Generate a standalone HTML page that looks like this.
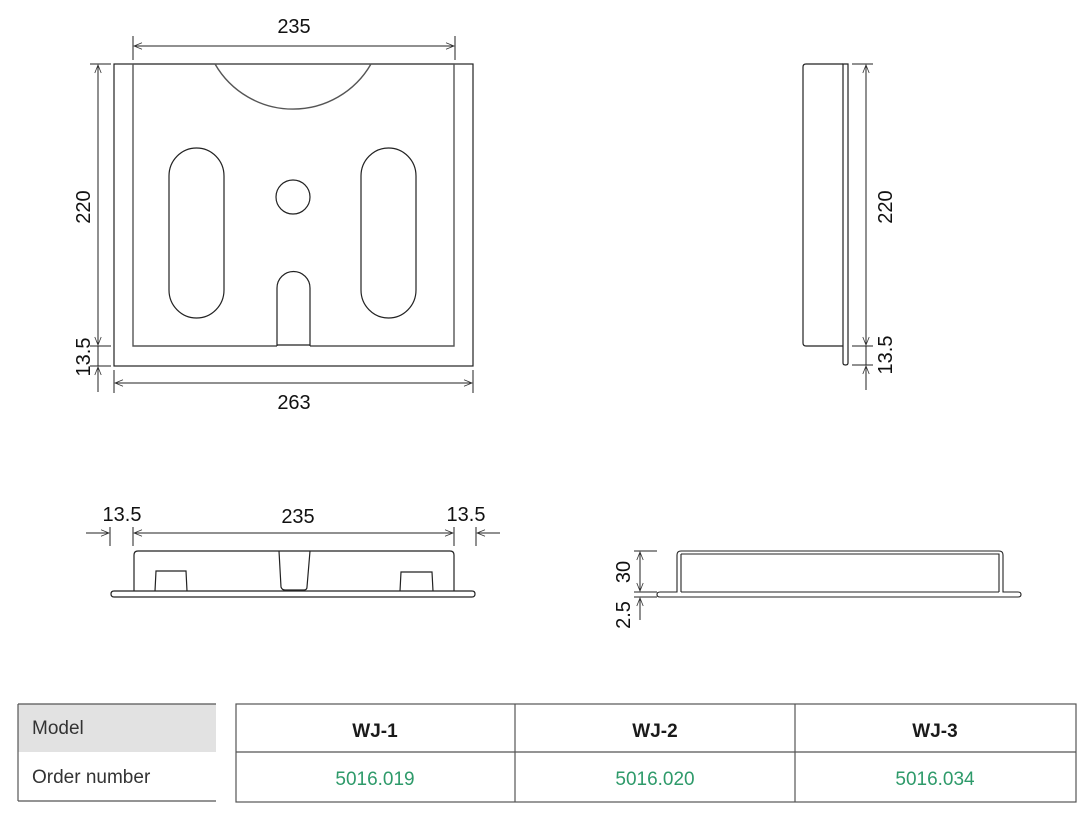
<!DOCTYPE html>
<html><head><meta charset="utf-8"><style>
html,body{margin:0;padding:0;background:#fff;}
svg{display:block;}
.t{font-family:"Liberation Sans",sans-serif;font-size:20px;fill:#111;}
.tb{font-family:"Liberation Sans",sans-serif;}
</style></head><body>
<svg width="1086" height="818" viewBox="0 0 1086 818" xmlns="http://www.w3.org/2000/svg">
<defs>
<marker id="a" viewBox="0 0 10 10" refX="10" refY="5" markerWidth="10" markerHeight="8" orient="auto-start-reverse" markerUnits="userSpaceOnUse">
<path d="M0,1 L10,5 L0,9" fill="none" stroke="#333" stroke-width="1"/>
</marker>
</defs>
<g fill="none" stroke="#222" stroke-width="1.2">
<rect x="114" y="64" width="359" height="302"/>
<path d="M133,64 V346 H277 M310,346 H454 V64 H371 A90,90 0 0 1 215,64 H133" stroke="#555" stroke-width="1.4"/>
<path d="M277,346 V288 A16.5,16.5 0 0 1 310,288 V346 M277,345 H310" />
<path d="M169,176 A27.5,28 0 0 1 224,176 V290 A27.5,28 0 0 1 169,290 Z"/>
<path d="M361,176 A27.5,28 0 0 1 416,176 V290 A27.5,28 0 0 1 361,290 Z"/>
<circle cx="293" cy="197" r="17"/>
</g>
<g fill="none" stroke="#222" stroke-width="1">
<line x1="133" y1="36" x2="133" y2="60"/><line x1="455" y1="36" x2="455" y2="60"/>
<line x1="134" y1="46" x2="454" y2="46" marker-start="url(#a)" marker-end="url(#a)"/>
<line x1="90" y1="64" x2="111" y2="64"/><line x1="90" y1="346" x2="111" y2="346"/><line x1="90" y1="366" x2="111" y2="366"/>
<line x1="98" y1="65" x2="98" y2="345" marker-start="url(#a)" marker-end="url(#a)"/>
<line x1="98" y1="346" x2="98" y2="366"/>
<line x1="98" y1="392" x2="98" y2="367" marker-end="url(#a)"/>
<line x1="114" y1="370" x2="114" y2="393"/><line x1="473" y1="370" x2="473" y2="393"/>
<line x1="115" y1="383" x2="472" y2="383" marker-start="url(#a)" marker-end="url(#a)"/>
</g>
<text class="t" x="294" y="33" text-anchor="middle">235</text>
<text class="t" x="294" y="409" text-anchor="middle">263</text>
<text class="t" transform="translate(90,207) rotate(-90)" text-anchor="middle">220</text>
<text class="t" transform="translate(90,357) rotate(-90)" text-anchor="middle">13.5</text>

<g fill="none" stroke="#222" stroke-width="1.2">
<path d="M843,64 H806 Q803,64 803,67 V343 Q803,346 806,346 H843"/>
<path d="M843,64 H848 V363 Q848,365 845.5,365 Q843,365 843,363 Z"/>
</g>
<g fill="none" stroke="#222" stroke-width="1">
<line x1="852" y1="64" x2="873" y2="64"/><line x1="852" y1="346" x2="873" y2="346"/><line x1="852" y1="365" x2="873" y2="365"/>
<line x1="866" y1="65" x2="866" y2="345" marker-start="url(#a)" marker-end="url(#a)"/>
<line x1="866" y1="346" x2="866" y2="365"/>
<line x1="866" y1="390" x2="866" y2="366" marker-end="url(#a)"/>
</g>
<text class="t" transform="translate(892,207) rotate(-90)" text-anchor="middle">220</text>
<text class="t" transform="translate(892,355) rotate(-90)" text-anchor="middle">13.5</text>

<g fill="none" stroke="#222" stroke-width="1.2">
<path d="M114,591 H472 Q475,591 475,594 Q475,597 472,597 H114 Q111,597 111,594 Q111,591 114,591 Z"/>
<path d="M134,591 V555 Q134,551 138,551 H450 Q454,551 454,555 V591"/>
<path d="M155,591 L156,571 H186 L187,591"/>
<path d="M400,591 L401,572 H432 L433,591"/>
<path d="M279,551 L281,587 Q282,590 285,590 H304 Q307,590 307,587 L310,551"/>
</g>
<g fill="none" stroke="#222" stroke-width="1">
<line x1="110" y1="527" x2="110" y2="546"/><line x1="133" y1="527" x2="133" y2="546"/>
<line x1="454" y1="527" x2="454" y2="546"/><line x1="476" y1="527" x2="476" y2="546"/>
<line x1="86" y1="533" x2="109" y2="533" marker-end="url(#a)"/>
<line x1="134" y1="533" x2="453" y2="533" marker-start="url(#a)" marker-end="url(#a)"/>
<line x1="500" y1="533" x2="477" y2="533" marker-end="url(#a)"/>
</g>
<text class="t" x="122" y="521" text-anchor="middle">13.5</text>
<text class="t" x="298" y="523" text-anchor="middle">235</text>
<text class="t" x="466" y="521" text-anchor="middle">13.5</text>

<g fill="none" stroke="#222" stroke-width="1.1">
<path d="M660,592 H677 V555 Q677,551 681,551 H999 Q1003,551 1003,555 V592 H1018 Q1021,592 1021,594.5 Q1021,597 1018,597 H660 Q657,597 657,594.5 Q657,592 660,592 Z"/>
<path d="M681,554 H999 V592 M681,554 V592 M681,592 H999"/>
</g>
<g fill="none" stroke="#222" stroke-width="1">
<line x1="634" y1="551" x2="657" y2="551"/><line x1="634" y1="592" x2="657" y2="592"/><line x1="634" y1="597" x2="657" y2="597"/>
<line x1="640" y1="552" x2="640" y2="591" marker-start="url(#a)" marker-end="url(#a)"/>
<line x1="640" y1="620" x2="640" y2="598" marker-end="url(#a)"/>
</g>
<text class="t" transform="translate(630,572) rotate(-90)" text-anchor="middle">30</text>
<text class="t" transform="translate(630,615) rotate(-90)" text-anchor="middle">2.5</text>

<rect x="18" y="704" width="198" height="48" fill="#e2e2e2"/>
<g stroke="#555" stroke-width="1.2" fill="none">
<line x1="18" y1="704" x2="216" y2="704"/><line x1="18" y1="801" x2="216" y2="801"/>
<line x1="18" y1="704" x2="18" y2="801"/>
<rect x="236" y="704" width="840" height="98"/>
<line x1="236" y1="752" x2="1076" y2="752"/>
<line x1="515" y1="704" x2="515" y2="802"/><line x1="795" y1="704" x2="795" y2="802"/>
</g>
<text class="tb" x="32" y="734" font-size="19" fill="#333">Model</text>
<text class="tb" x="32" y="783" font-size="19" fill="#333">Order number</text>
<g class="tb" font-size="19" font-weight="bold" fill="#1a1a1a" text-anchor="middle">
<text x="375" y="737">WJ-1</text><text x="655" y="737">WJ-2</text><text x="935" y="737">WJ-3</text>
</g>
<g class="tb" font-size="19" fill="#2e9a6a" text-anchor="middle">
<text x="375" y="785">5016.019</text><text x="655" y="785">5016.020</text><text x="935" y="785">5016.034</text>
</g>
</svg>
</body></html>
